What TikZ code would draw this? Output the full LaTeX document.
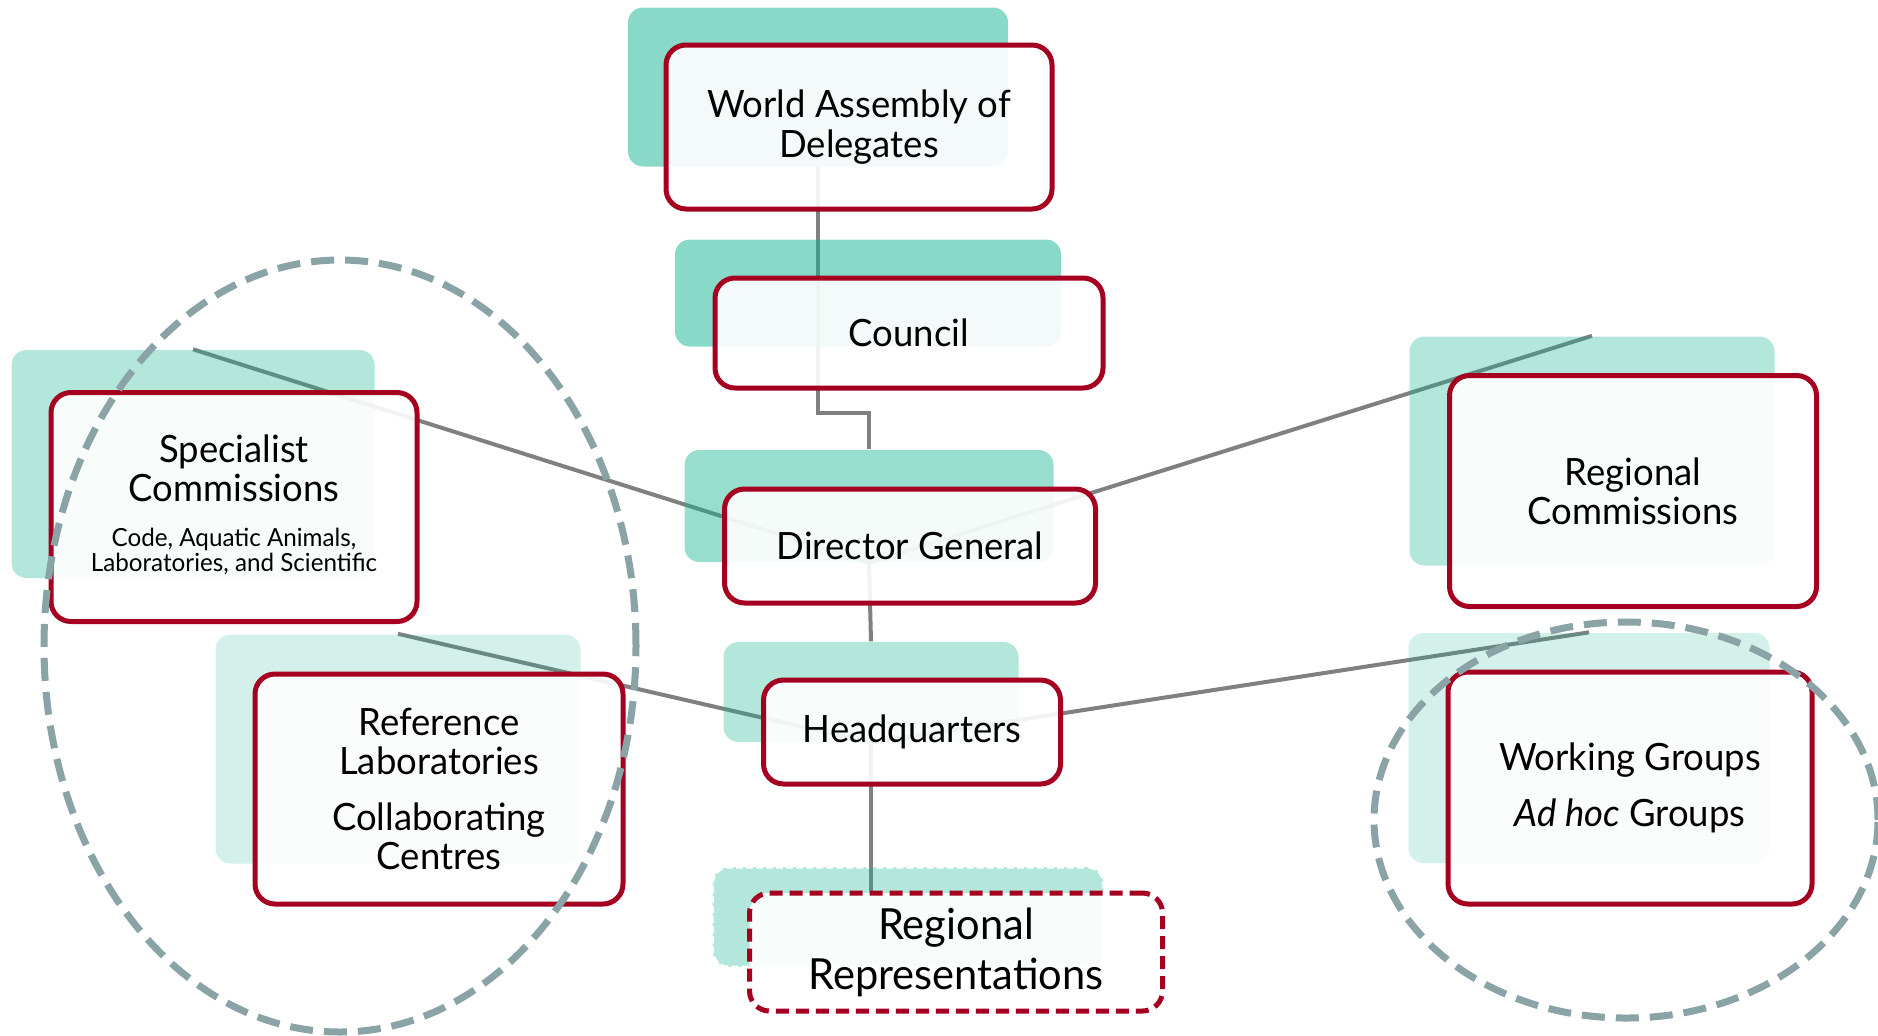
\documentclass[tikz,border=0pt]{standalone}
\usepackage{fontspec}
\setmainfont{Lato}[FakeStretch=0.97]
\usepackage{tikz}
\usetikzlibrary{backgrounds}

\definecolor{oiered}{RGB}{166,0,33}
\definecolor{oieteal}{RGB}{20,180,145}
\definecolor{linkgray}{RGB}{128,128,128}
\definecolor{groupgray}{RGB}{138,163,166}

\newcommand{\notefont}{\fontsize{7.1}{7.1}\selectfont}

\tikzstyle{tealbox} = [rectangle, rounded corners=1.5mm, fill=oieteal, inner sep=0pt]
\tikzstyle{tealdark} = [tealbox, fill opacity=0.5]
\tikzstyle{tealdg} = [tealbox, fill opacity=0.44]
\tikzstyle{tealmid} = [tealbox, fill opacity=0.32]
\tikzstyle{teallight} = [tealbox, fill opacity=0.19]
\tikzstyle{organ} = [rectangle, rounded corners=2mm, draw=oiered, line width=0.5mm, fill=white, fill opacity=0.9, text opacity=1, text centered, align=center, inner sep=0pt, font=\fontsize{10.7}{11.2}\selectfont]
\tikzstyle{link} = [draw=linkgray, line width=0.4mm]
\tikzstyle{group} = [draw=groupgray, line width=0.7mm, dash pattern=on 2.3mm off 1.1mm]

\begin{document}
\begin{tikzpicture}[x=0.1mm, y=-0.1mm]
\useasboundingbox (0,0) rectangle (1878,1035);

% teal boxes behind
\node (wadbg) [tealdark, minimum width=3.80cm, minimum height=1.59cm] at (818,87) {};
\node (councilbg) [tealdark, minimum width=3.86cm, minimum height=1.07cm] at (868,293) {};
\node (dgbg) [tealdg, minimum width=3.69cm, minimum height=1.12cm] at (869,506) {};
\node (hqbg) [tealmid, minimum width=2.95cm, minimum height=1.00cm] at (871,692) {};
\node (rrbg) [tealmid, draw=oieteal!32, draw opacity=1, dotted, line width=0.3mm, minimum width=3.88cm, minimum height=0.97cm] at (908,917) {};
\node (scbg) [tealmid, minimum width=3.63cm, minimum height=2.28cm] at (193,464) {};
\node (rlbg) [teallight, minimum width=3.65cm, minimum height=2.29cm] at (398,749) {};
\node (rcbg) [tealmid, minimum width=3.65cm, minimum height=2.29cm] at (1592,451) {};
\node (wgbg) [teallight, minimum width=3.61cm, minimum height=2.30cm] at (1589,748) {};

% red boxes
\node (wad) [organ, minimum width=3.86cm, minimum height=1.64cm, xshift=4.1mm, yshift=-4mm] at (wadbg) {World Assembly of\\Delegates};
\node (council) [organ, minimum width=3.88cm, minimum height=1.10cm, xshift=4.1mm, yshift=-4mm] at (councilbg) {Council};
\node (dg) [organ, minimum width=3.71cm, minimum height=1.14cm, xshift=4.1mm, yshift=-4mm] at (dgbg) {Director General};
\node (hq) [organ, minimum width=2.97cm, minimum height=1.04cm, xshift=4.1mm, yshift=-4mm] at (hqbg) {Headquarters};
\node (rr) [organ, dash pattern=on 1.3mm off 0.7mm, font=\fontsize{12.2}{14.2}\selectfont, minimum width=4.13cm, minimum height=1.18cm, xshift=4.8mm, yshift=-3.5mm] at (rrbg) {Regional\\Representations};
\node (sc) [organ, minimum width=3.66cm, minimum height=2.29cm, xshift=4.1mm, yshift=-4.3mm] at (scbg) {Specialist\\Commissions\\[0.5mm]\notefont\begin{tabular}[t]{@{}c@{}}Code, Aquatic Animals,\\Laboratories, and Scientific\end{tabular}};
\node (rl) [organ, minimum width=3.68cm, minimum height=2.30cm, xshift=4.1mm, yshift=-4mm] at (rlbg) {Reference\\Laboratories\\[1.6mm]Collaborating\\Centres};
\node (rc) [organ, minimum width=3.67cm, minimum height=2.31cm, xshift=4.1mm, yshift=-4mm] at (rcbg) {Regional\\Commissions};
\node (wg) [organ, minimum width=3.64cm, minimum height=2.32cm, xshift=4.1mm, yshift=-4mm] at (wgbg) {Working Groups\\[1.6mm]\textit{Ad hoc} Groups};

% connectors
\begin{scope}[on background layer]
\draw [link] (wadbg.south) -- ++(0,246) -| (dgbg.north);
\draw [link] (dgbg.south) -- (hqbg.north);
\draw [link] (hqbg.south) -- (hqbg.south |- rr.north);
\draw [link] (scbg.north) -- (dgbg.south);
\draw [link] (rcbg.north) -- (dgbg.south);
\draw [link] (rlbg.north) -- (hqbg.south);
\draw [link] (wgbg.north) -- (hqbg.south);
\end{scope}

% groups
\draw [group] (340,646) ellipse [x radius=29.6mm, y radius=38.6mm];
\draw [group] (1626,820) ellipse [x radius=25.2mm, y radius=19.8mm];

\end{tikzpicture}
\end{document}
